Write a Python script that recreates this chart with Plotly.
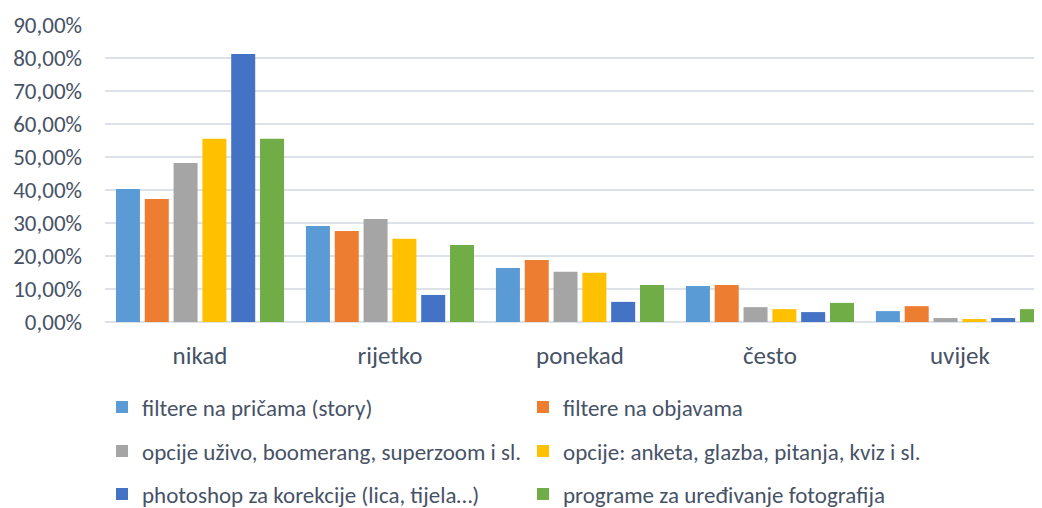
import plotly.graph_objects as go

categories = ["nikad", "rijetko", "ponekad", "često", "uvijek"]
series_names = [
    "filtere na pričama (story)",
    "filtere na objavama",
    "opcije uživo, boomerang, superzoom i sl.",
    "opcije: anketa, glazba, pitanja, kviz i sl.",
    "photoshop za korekcije (lica, tijela…)",
    "programe za uređivanje fotografija",
]
s1 = [0.403, 0.291, 0.164, 0.109, 0.033]
s2 = [0.373, 0.276, 0.188, 0.112, 0.048]
s3 = [0.482, 0.312, 0.152, 0.045, 0.012]
s4 = [0.555, 0.252, 0.149, 0.039, 0.009]
s5 = [0.812, 0.082, 0.061, 0.030, 0.012]
s6 = [0.555, 0.233, 0.112, 0.058, 0.039]
series_values = [s1, s2, s3, s4, s5, s6]
colors = ["#5B9BD5", "#ED7D31", "#A5A5A5", "#FFC000", "#4472C4", "#70AD47"]
y_ticks = [0, 0.1, 0.2, 0.3, 0.4, 0.5, 0.6, 0.7, 0.8, 0.9]

FONT = "Carlito, Calibri, Lato, sans-serif"
TXT = "#465266"

legend_ids = ["legend", "legend", "legend2", "legend2", "legend3", "legend3"]

fig = go.Figure()
for name, vals, col, lg in zip(series_names, series_values, colors, legend_ids):
    fig.add_trace(go.Bar(x=categories, y=vals, name=name, marker_color=col,
                         marker_line_width=0, legend=lg))

# page body has an 8px margin: figure origin is at (8, 8) on screen
W, H = 1034, 500
leg_common = dict(orientation="h", xanchor="left", yanchor="middle",
                  xref="container", yref="container",
                  entrywidth=376, entrywidthmode="pixels", itemwidth=30,
                  font=dict(family=FONT, size=23, color=TXT),
                  bgcolor="rgba(0,0,0,0)", traceorder="normal")
x0 = (102 - 8) / W
fig.update_layout(
    width=W, height=H,
    margin=dict(l=97, r=0, t=17, b=186),
    paper_bgcolor="white", plot_bgcolor="white",
    separators=",.",
    bargap=0.09, bargroupgap=0.167, barmode="group",
    font=dict(family=FONT, size=22, color=TXT),
    xaxis=dict(range=[-0.5, 4.432], showgrid=False, zeroline=False,
               showline=False, ticks="", tickfont=dict(size=25, color=TXT),
               ticklabelstandoff=16, automargin=False),
    yaxis=dict(range=[0, 0.9], tickvals=y_ticks, tickformat=".2%",
               showgrid=True, gridcolor="#dde1e8", gridwidth=1.5,
               zeroline=True, zerolinecolor="#dde1e8", zerolinewidth=1.5,
               showline=False, ticks="", tickfont=dict(size=23, color=TXT),
               ticklabelstandoff=22, automargin=False),
    legend=dict(**leg_common, x=x0, y=1 - (407 - 8) / H),
    legend2=dict(**leg_common, x=x0, y=1 - (451 - 8) / H),
    legend3=dict(**leg_common, x=x0, y=1 - (494 - 8) / H),
)

fig.write_html("out.html")
